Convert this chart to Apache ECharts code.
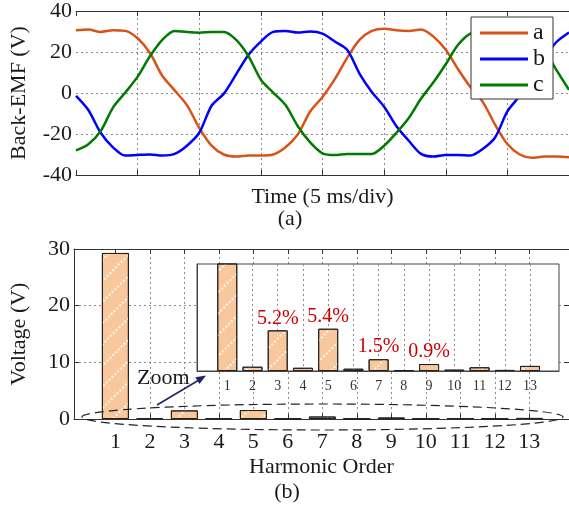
<!DOCTYPE html>
<html>
<head>
<meta charset="utf-8">
<script src="https://cdn.jsdelivr.net/npm/echarts@6/dist/echarts.min.js"></script>
<style>
  html, body { margin: 0; padding: 0; background: #fff; }
  #main { width: 569px; height: 507px; }
</style>
</head>
<body>
<div id="main"></div>
<script>
// (a) back-EMF, one sample per ms
const timeMs = [0, 1, 2, 3, 4, 5, 6, 7, 8, 9, 10, 11, 12, 13, 14, 15, 16, 17, 18, 19, 20,
  21, 22, 23, 24, 25, 26, 27, 28, 29, 30, 31, 32, 33, 34, 35, 36, 37, 38, 39, 40];
const phaseA = [30.6, 31, 29.8, 30.6, 30.3, 26.7, 19.5, 8.4, 1.3, -5.9, -17, -25.7, -30, -31,
  -30.5, -30.5, -30, -26.5, -20.2, -9, -1.9, 6.8, 17.1, 25.9, 30.3, 31.4, 30.6, 30.3, 31,
  27.5, 21.1, 11.6, 2.9, -4.3, -15.4, -24.9, -30, -31.6, -31, -31, -31.3];
const phaseB = [-1.4, -8.3, -19.4, -26.5, -30.5, -30.2, -30, -30.5, -29.7, -25.7, -19.4, -6.2,
  -0.3, 9.2, 18.7, 25.1, 29.8, 30.3, 29.5, 30, 29, 25.1, 21.1, 9.5, 0.5, -6.7, -16.2, -23.3,
  -29.7, -31, -30.2, -30.2, -30.5, -27.3, -21.7, -9, -1.4, 8, 17, 25, 29.5];
const phaseC = [-28, -25, -18.6, -7.1, 0.2, 8, 17.9, 25.9, 30.3, 29.7, 29.4, 29.8, 29.8, 25.9,
  17.9, 6.5, 0.2, -5.9, -16.2, -24.1, -29.4, -30.2, -29.7, -29.7, -29.7, -25.7, -19.4, -12.2,
  -2.7, 5.2, 14, 23.5, 29, 30, 30, 29.5, 30, 28, 21, 11, 1.5];
const timeGrid = [5, 10, 15, 20, 25, 30, 35];
const emfGrid = [-20, 0, 20];

// (b) harmonic spectrum
const harmonicOrder = [1, 2, 3, 4, 5, 6, 7, 8, 9, 10, 11, 12, 13];
const harmonicVolt = [29.3, 0.16, 1.52, 0.12, 1.58, 0.085, 0.44, 0.03, 0.26, 0.05, 0.14, 0.04, 0.19];
const harmonicPct = ['', '', '5.2%', '', '5.4%', '', '1.5%', '', '0.9%', '', '', '', ''];
const voltGrid = [10, 20];

const FONT = 'Liberation Serif';
const TXT = '#1a1a1a';
const GRIDLINE = { type: [2, 3], color: '#8a8a8a', width: 1 };
const AXLINE = { onZero: false, lineStyle: { color: '#333', width: 1 } };
const TICK = { inside: true, length: 5, lineStyle: { color: '#333' } };

const hatch = {
  symbol: 'rect',
  symbolSize: 1,
  color: 'rgba(255,255,255,0.85)',
  dashArrayX: [2, 2],
  dashArrayY: [1.5, 13],
  rotation: -Math.PI / 4
};

function barData(withLabel) {
  let list = [];
  for (var i = 0; i < harmonicOrder.length; i++) {
    let item = { value: [harmonicOrder[i], harmonicVolt[i]] };
    if (withLabel && harmonicPct[i]) {
      item.label = { show: true, formatter: harmonicPct[i] };
    }
    list.push(item);
  }
  return list;
}

// dotted grid drawn as mark lines
function gridLines(xs, ys, z) {
  let data = [];
  for (var x of xs) data.push({ xAxis: x });
  for (var y of ys) data.push({ yAxis: y });
  return {
    silent: true, symbol: 'none', z: z, animation: false,
    label: { show: false },
    lineStyle: GRIDLINE,
    emphasis: { disabled: true },
    data: data
  };
}

// time axis (bottom + mirrored top), ticks every 5 ms
function timeAxis(pos) {
  return {
    type: 'category', gridIndex: 0, position: pos, data: timeMs, boundaryGap: false, z: 1,
    axisLine: AXLINE,
    axisTick: Object.assign({ interval: 4 }, TICK),
    axisLabel: { show: false },
    splitLine: { show: false }
  };
}

// harmonic axis for the main spectrum (bottom + mirrored top)
function orderAxis(pos) {
  return {
    type: 'value', gridIndex: 1, position: pos, min: -0.2, max: 14.15, z: 1,
    axisLine: AXLINE,
    axisTick: Object.assign({ customValues: harmonicOrder }, TICK),
    axisLabel: { show: false },
    splitLine: { show: false }
  };
}

function valueAxis(grid, pos, min, max, step) {
  return {
    type: 'value', gridIndex: grid, position: pos, min: min, max: max, interval: step, z: 1,
    axisLine: AXLINE,
    axisTick: TICK,
    axisLabel: { show: false },
    splitLine: { show: false }
  };
}

let xTime = timeAxis('bottom');
xTime.name = 'Time (5 ms/div)';
xTime.nameLocation = 'middle';
xTime.nameGap = 11;
xTime.nameTextStyle = { fontFamily: FONT, fontSize: 22, color: TXT };

let xOrder = orderAxis('bottom');
xOrder.axisLabel = { customValues: harmonicOrder, fontFamily: FONT, fontSize: 22, color: TXT, margin: 12 };
xOrder.name = 'Harmonic Order';
xOrder.nameLocation = 'middle';
xOrder.nameGap = 37;
xOrder.nameTextStyle = { fontFamily: FONT, fontSize: 22, color: TXT };

let yEmf = valueAxis(0, 'left', -40, 40, 20);
yEmf.axisLabel = { fontFamily: FONT, fontSize: 22, color: TXT, margin: 4 };
yEmf.name = 'Back-EMF (V)';
yEmf.nameLocation = 'middle';
yEmf.nameGap = 46;
yEmf.nameTextStyle = { fontFamily: FONT, fontSize: 22, color: TXT };

let yVolt = valueAxis(1, 'left', 0, 30, 10);
yVolt.axisLabel = { fontFamily: FONT, fontSize: 22, color: TXT, margin: 4 };
yVolt.name = 'Voltage (V)';
yVolt.nameLocation = 'middle';
yVolt.nameGap = 44;
yVolt.nameTextStyle = { fontFamily: FONT, fontSize: 22, color: TXT };

const chart = echarts.init(document.getElementById('main'));

const option = {
  animation: false,
  backgroundColor: '#fff',
  textStyle: { fontFamily: FONT },
  grid: [
    { left: 73, top: 7, width: 496, height: 168, show: false },
    { left: 73, top: 249, width: 496, height: 170, show: false },
    { left: 197, top: 264, width: 362, height: 107, show: true, borderColor: '#444', borderWidth: 1,
      backgroundColor: '#fff', z: 4 }
  ],
  legend: {
    data: ['a', 'b', 'c'],
    orient: 'vertical',
    right: 16,
    top: 17,
    icon: 'rect',
    backgroundColor: '#fff',
    borderColor: '#333',
    borderWidth: 1,
    padding: [4, 8, 2, 9],
    itemGap: 2,
    itemWidth: 48,
    itemHeight: 3,
    textStyle: { fontFamily: FONT, fontSize: 24, lineHeight: 21, color: TXT },
    z: 10
  },
  xAxis: [
    xTime,
    timeAxis('top'),
    xOrder,
    orderAxis('top'),
    {
      type: 'value', gridIndex: 2, min: -0.2, max: 14.15, z: 5,
      axisLine: { onZero: false, lineStyle: { color: '#444', width: 1 } },
      axisTick: { show: false },
      axisLabel: { customValues: harmonicOrder, fontFamily: FONT, fontSize: 14, color: '#333', margin: 8 },
      splitLine: { show: false }
    }
  ],
  yAxis: [
    yEmf,
    valueAxis(0, 'right', -40, 40, 20),
    yVolt,
    valueAxis(1, 'right', 0, 30, 10),
    {
      type: 'value', gridIndex: 2, min: 0, max: 4, z: 5,
      axisLine: { show: true, onZero: false, lineStyle: { color: '#444', width: 1 } },
      axisTick: { show: false },
      axisLabel: { show: false },
      splitLine: { show: false }
    }
  ],
  series: [
    { name: 'a', type: 'line', xAxisIndex: 0, yAxisIndex: 0, data: phaseA, symbol: 'none',
      smooth: 0.3, lineStyle: { color: '#D95319', width: 2.5 }, itemStyle: { color: '#D95319' },
      markLine: gridLines(timeGrid, emfGrid, 1) },
    { name: 'b', type: 'line', xAxisIndex: 0, yAxisIndex: 0, data: phaseB, symbol: 'none',
      smooth: 0.3, lineStyle: { color: '#0000ff', width: 2.5 }, itemStyle: { color: '#0000ff' } },
    { name: 'c', type: 'line', xAxisIndex: 0, yAxisIndex: 0, data: phaseC, symbol: 'none',
      smooth: 0.3, lineStyle: { color: '#007a00', width: 2.5 }, itemStyle: { color: '#007a00' } },
    {
      type: 'bar', xAxisIndex: 2, yAxisIndex: 2, data: barData(false), barWidth: 27,
      itemStyle: { color: '#f9c79c', borderColor: '#222', borderWidth: 1, decal: hatch },
      markLine: gridLines(harmonicOrder, voltGrid, 1)
    },
    {
      type: 'bar', xAxisIndex: 4, yAxisIndex: 4, data: barData(true), barWidth: 20, z: 6,
      itemStyle: { color: '#f9c79c', borderColor: '#222', borderWidth: 1, decal: hatch },
      label: { position: 'top', distance: 2, color: '#cc0000', fontFamily: FONT, fontSize: 20 },
      markLine: gridLines(harmonicOrder, [], 4.5)
    }
  ],
  graphic: [
    { type: 'text', x: 290, y: 219, z: 10,
      style: { text: '(a)', font: '22px "Liberation Serif"', fill: TXT, align: 'center', verticalAlign: 'middle' } },
    { type: 'text', x: 287, y: 492, z: 10,
      style: { text: '(b)', font: '22px "Liberation Serif"', fill: TXT, align: 'center', verticalAlign: 'middle' } },
    { type: 'text', x: 137, y: 378, z: 10,
      style: { text: 'Zoom', font: '22px "Liberation Serif"', fill: TXT, align: 'left', verticalAlign: 'middle' } },
    { type: 'line', z: 10, shape: { x1: 157, y1: 405, x2: 199, y2: 380 },
      style: { stroke: '#22226a', lineWidth: 1.5 } },
    { type: 'polygon', z: 10, shape: { points: [[206, 375.5], [199.5, 384.1], [195.4, 377.3]] },
      style: { fill: '#22226a' } },
    { type: 'ellipse', z: 10, shape: { cx: 322.5, cy: 417, rx: 240.5, ry: 13 },
      style: { fill: 'none', stroke: '#222', lineWidth: 1.2, lineDash: [9, 5] } }
  ]
};

chart.setOption(option);
</script>
</body>
</html>
